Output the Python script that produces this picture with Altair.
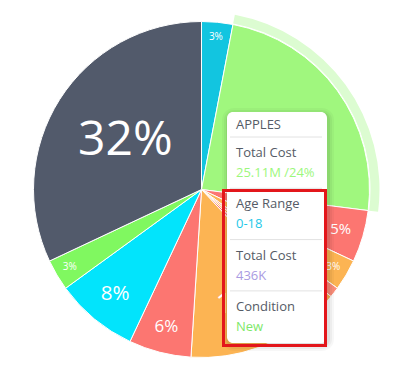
import altair as alt
import pandas as pd

# Slices, clockwise from 12 o'clock
names = ["GRAPES", "APPLES", "CHERRIES", "PEACHES", "PLUMS", "MANGOES", "BERRIES",
         "ORANGES", "MELONS", "BLUEBERRIES", "LIMES", "OTHER"]
values = [3, 24, 5, 3, 1, 1, 1, 13, 6, 8, 3, 32]
colors = ["#12c5e0", "#a0f77e", "#fc7671", "#fcb453", "#fc8f7a", "#fcb453", "#fc7671",
          "#fcb453", "#fc7671", "#02e4fc", "#80f860", "#525a6b"]
highlight = "APPLES"

# Tooltip contents
tip_title = "APPLES"
tip_labels = ["Total Cost", "Age Range", "Total Cost", "Condition"]
tip_values = ["25.11M /24%", "0-18", "436K", "New"]
tip_colors = ["#9cf77c", "#1ec8e8", "#a99be2", "#7ee86a"]

df = pd.DataFrame({"idx": list(range(len(names))), "name": names, "value": values})
tip_df = pd.DataFrame({"i": list(range(len(tip_labels))), "label": tip_labels,
                       "val": tip_values, "vcol": tip_colors})

CX, CY, R = 193.5, 181.5, 168

theta_scale = alt.Scale(domain=[0, 100], range=[0, 6.283185307179586])

base = alt.Chart(df).transform_joinaggregate(
    total="sum(value)"
).transform_calculate(
    pct="datum.value / datum.total * 100"
).transform_window(
    cum="sum(pct)", sort=[alt.SortField("idx")], frame=[None, 0]
).transform_calculate(
    start="datum.cum - datum.pct",
    mid="datum.cum - datum.pct / 2",
)

ring = base.mark_arc(innerRadius=R + 1, outerRadius=R + 10, x=CX, y=CY).encode(
    theta=alt.Theta("start:Q", scale=theta_scale),
    theta2="cum:Q",
    color=alt.condition(f"datum.name == '{highlight}'", alt.value("#dcfcd1"), alt.value("transparent")),
)

arcs = base.mark_arc(outerRadius=R, x=CX, y=CY, stroke="white", strokeWidth=1).encode(
    theta=alt.Theta("start:Q", scale=theta_scale),
    theta2="cum:Q",
    color=alt.Color("name:N", scale=alt.Scale(domain=names, range=colors), legend=None),
)

labels = base.transform_calculate(
    lab="datum.pct >= 2 ? format(datum.pct, '.0f') + '%' : ''",
    lr="180.7 - 16 * sqrt(datum.pct)",
    fs="9.67 * sqrt(datum.pct) - 6.7",
).mark_text(x=CX, y=CY, color="white", font="Open Sans").encode(
    theta=alt.Theta("mid:Q", scale=theta_scale),
    text="lab:N",
    radius=alt.Radius("lr:Q", scale=None),
    size=alt.Size("fs:Q", scale=None, legend=None),
)

# Tooltip box
BX, BX2, BY, BY2 = 219, 319, 104, 335
shadow_layers = []
for k, op in [(6, 0.03), (4, 0.04), (2, 0.06)]:
    shadow_layers.append(
        alt.Chart(tip_df).transform_filter("datum.i == 0").mark_rect(
            cornerRadius=6 + k, fill="black", opacity=op).encode(
            x=alt.value(BX - k + 1), x2=alt.value(BX2 + k + 1),
            y=alt.value(BY - k + 2), y2=alt.value(BY2 + k + 2))
    )
box = alt.Chart(tip_df).transform_filter("datum.i == 0").mark_rect(
    cornerRadius=6, fill="white").encode(
    x=alt.value(BX), x2=alt.value(BX2), y=alt.value(BY), y2=alt.value(BY2))

tbase = alt.Chart(tip_df).transform_calculate(
    ly="145 + datum.i * 51.3",
    vy="165 + datum.i * 51.3",
    dy="129 + datum.i * 51.3",
)
dividers = tbase.mark_rule(color="#e2e2e2", strokeWidth=1).encode(
    x=alt.value(BX + 3), x2=alt.value(BX2 - 5), y=alt.Y("dy:Q", scale=None))
title = alt.Chart(tip_df).transform_filter("datum.i == 0").mark_text(
    text=tip_title, align="left", baseline="middle", font="Open Sans", fontSize=13, color="#555b66"
).encode(x=alt.value(228), y=alt.value(117))
tlabels = tbase.mark_text(align="left", baseline="middle", font="Open Sans", fontSize=13,
                          color="#555b66").encode(
    x=alt.value(228), y=alt.Y("ly:Q", scale=None), text="label:N")
tvals = tbase.mark_text(align="left", baseline="middle", font="Open Sans", fontSize=13).encode(
    x=alt.value(228), y=alt.Y("vy:Q", scale=None), text="val:N",
    color=alt.Color("vcol:N", scale=None))

redbox = alt.Chart(tip_df).transform_filter("datum.i == 0").mark_rect(
    fill="transparent", stroke="#e3161b", strokeWidth=3).encode(
    x=alt.value(215.5), x2=alt.value(317.5), y=alt.value(182.5), y2=alt.value(337.5))

chart = alt.layer(ring, arcs, labels, *shadow_layers, box, dividers, title, tlabels, tvals, redbox).properties(
    width=384, height=360,
    autosize=alt.AutoSizeParams(type="fit", contains="padding"),
    padding=0,
).configure_view(stroke=None)

chart.save("out.html", embed_options={"renderer": "svg", "actions": False})
